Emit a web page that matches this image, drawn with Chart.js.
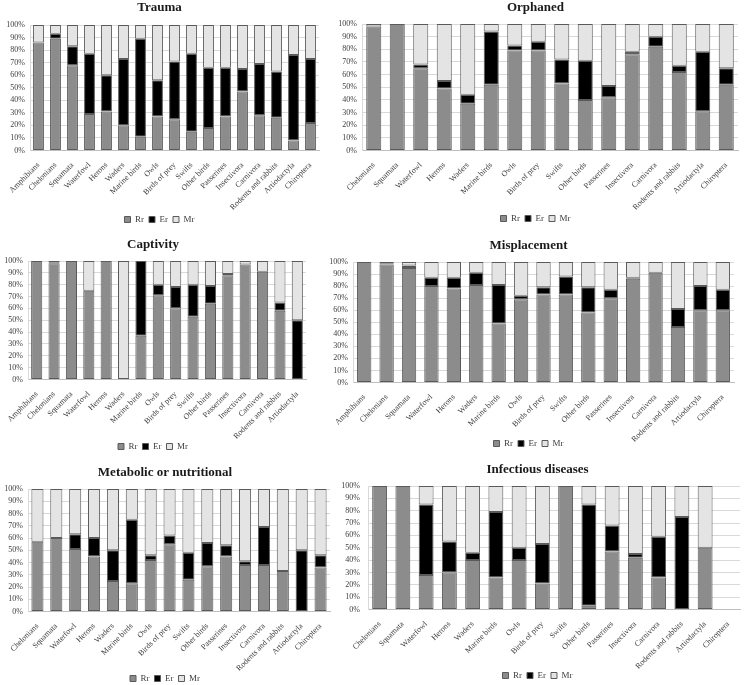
<!DOCTYPE html>
<html><head><meta charset="utf-8">
<script src="https://cdn.jsdelivr.net/npm/chart.js@4/dist/chart.umd.min.js"></script>
<style>
html,body{margin:0;padding:0;background:#fff;}
body{width:745px;height:685px;position:relative;overflow:hidden;}
.p{position:absolute;}
</style></head><body>
<script>
// ---------- DATA ----------
const seriesNames = ['Rr', 'Er', 'Mr'];

const traumaCategories = ['Amphibians','Chelonians','Squamata','Waterfowl','Herons','Waders','Marine birds','Owls','Birds of prey','Swifts','Other birds','Passerines','Insectivora','Carnivora','Rodents and rabbits','Artiodactyla','Chiroptera'];
const traumaRr = [86,89,68,29,31,20,11,27,25,15,18,27,47,28,26,8,22];
const traumaEr = [0,4,15,48,29,53,78,29,46,62,48,39,18,41,37,68,51];
const traumaMr = [14,7,17,23,40,27,11,44,29,23,34,34,35,31,37,24,27];

const orphanedCategories = ['Chelonians','Squamata','Waterfowl','Herons','Waders','Marine birds','Owls','Birds of prey','Swifts','Other birds','Passerines','Insectivora','Carnivora','Rodents and rabbits','Artiodactyla','Chiroptera'];
const orphanedRr = [98,100,65,49,37,52,79,79,53,40,42,76,82,62,31,52];
const orphanedEr = [0,0,3,6,7,42,4,7,19,31,9,2,8,5,47,13];
const orphanedMr = [2,0,32,45,56,6,17,14,28,29,49,22,10,33,22,35];

const captivityCategories = ['Amphibians','Chelonians','Squamata','Waterfowl','Herons','Waders','Marine birds','Owls','Birds of prey','Swifts','Other birds','Passerines','Insectivora','Carnivora','Rodents and rabbits','Artiodactyla'];
const captivityRr = [100,98,100,75,100,0,37,71,60,53,64,88,97,91,58,0];
const captivityEr = [0,1,0,0,0,0,63,9,18,27,15,1,0,0,7,50];
const captivityMr = [0,1,0,25,0,100,0,20,22,20,21,11,3,9,35,50];

const misplacementCategories = ['Amphibians','Chelonians','Squamata','Waterfowl','Herons','Waders','Marine birds','Owls','Birds of prey','Swifts','Other birds','Passerines','Insectivora','Carnivora','Rodents and rabbits','Artiodactyla','Chiroptera'];
const misplacementRr = [100,98,95,80,78,81,49,69,73,73,58,70,86,91,46,60,60];
const misplacementEr = [0,1,2,7,9,10,32,3,6,15,21,7,1,0,15,20,17];
const misplacementMr = [0,1,3,13,13,9,19,28,21,12,21,23,13,9,39,20,23];

const metabolicCategories = ['Chelonians','Squamata','Waterfowl','Herons','Waders','Marine birds','Owls','Birds of prey','Swifts','Other birds','Passerines','Insectivora','Carnivora','Rodents and rabbits','Artiodactyla','Chiroptera'];
const metabolicRr = [57,60,51,45,25,23,42,55,26,37,45,38,38,33,0,36];
const metabolicEr = [0,0,12,15,25,52,4,7,22,19,9,3,31,0,50,10];
const metabolicMr = [43,40,37,40,50,25,54,38,52,44,46,59,31,67,50,54];

const infectiousCategories = ['Chelonians','Squamata','Waterfowl','Herons','Waders','Marine birds','Owls','Birds of prey','Swifts','Other birds','Passerines','Insectivora','Carnivora','Rodents and rabbits','Artiodactyla','Chiroptera'];
const infectiousRr = [100,100,28,30,40,26,40,21,100,3,47,42,26,0,50,0];
const infectiousEr = [0,0,57,25,6,53,10,32,0,82,21,3,33,75,0,0];
const infectiousMr = [0,0,15,45,54,21,50,47,0,15,32,55,41,25,50,0];

const yTickValues = [0,10,20,30,40,50,60,70,80,90,100];

// ---------- STYLE ----------
const colorRr = '#8c8c8c', colorEr = '#000000', colorMr = '#e4e4e4', barBorder = '#5a5a5a';
const serif = '"Liberation Serif", "Times New Roman", serif';
const TITLE_SIZE = 13;

function makeChart(title, cats, rr, er, mr, box) {
  const div = document.createElement('div');
  div.className = 'p';
  const top = box.top;
  const bottom = Math.round(box.legendY + 14.5);
  div.style.left = box.left + 'px';
  div.style.top = top + 'px';
  div.style.width = (box.right - box.left) + 'px';
  div.style.height = (bottom - top) + 'px';
  const cv = document.createElement('canvas');
  div.appendChild(cv);
  document.body.appendChild(div);

  const titleLH = TITLE_SIZE * 1.2;
  const padTop = box.titleY - top - titleLH / 2;
  const padBottom = box.plotTop - top - padTop - titleLH;
  const xH = box.legendY - 9.5 - box.plotBottom;
  const yW = box.plotL - box.left;
  const rightPad = box.right - box.plotR;

  const mk = (label, data, bg) => ({
    label, data, backgroundColor: bg, borderColor: barBorder, borderWidth: 1,
    borderSkipped: false, barPercentage: 0.64, categoryPercentage: 1.0
  });

  new Chart(cv, {
    type: 'bar',
    data: {
      labels: cats,
      datasets: [mk(seriesNames[0], rr, colorRr), mk(seriesNames[1], er, colorEr), mk(seriesNames[2], mr, colorMr)]
    },
    options: {
      responsive: true, maintainAspectRatio: false, animation: false, devicePixelRatio: 1,
      layout: { padding: { left: 0, right: rightPad, top: 0, bottom: 0 } },
      plugins: {
        title: { display: true, text: title, color: '#1a1a1a',
          font: { family: serif, size: TITLE_SIZE, weight: 'bold', lineHeight: 1.2 },
          padding: { top: padTop, bottom: padBottom } },
        legend: { display: true, position: 'bottom',
          labels: { boxWidth: 6, boxHeight: 6, padding: 5, color: '#404040',
            font: { family: serif, size: 9 } } },
        tooltip: { enabled: false }
      },
      scales: {
        x: {
          stacked: true,
          grid: { display: false },
          border: { display: true, color: '#bfbfbf' },
          ticks: { autoSkip: false, minRotation: 45, maxRotation: 45, color: '#404040', padding: 2,
            font: { family: serif, size: 8 } },
          afterFit: (s) => { s.height = xH; s._computeLabelArea = () => null; }
        },
        y: {
          stacked: true, min: 0, max: 100,
          afterBuildTicks: (s) => { s.ticks = yTickValues.map(v => ({ value: v })); },
          grid: { color: '#d9d9d9', drawTicks: false },
          border: { display: true, color: '#d9d9d9' },
          ticks: { autoSkip: false, color: '#404040', padding: box.yPad || 5, font: { family: serif, size: 8 },
            callback: (v) => v + '%' },
          afterFit: (s) => { s.width = yW; }
        }
      }
    }
  });
}

makeChart('Trauma', traumaCategories, traumaRr, traumaEr, traumaMr,
  { left: 0, right: 330, top: 0, plotL: 30, plotR: 319, plotTop: 25, plotBottom: 150, titleY: 8, legendY: 219 });
makeChart('Orphaned', orphanedCategories, orphanedRr, orphanedEr, orphanedMr,
  { left: 333, right: 745, top: 0, plotL: 362, plotR: 738, plotTop: 24, plotBottom: 150, titleY: 7.5, legendY: 218 });
makeChart('Captivity', captivityCategories, captivityRr, captivityEr, captivityMr,
  { left: 0, right: 316, top: 229, plotL: 28, plotR: 306, plotTop: 261, plotBottom: 379, titleY: 245, legendY: 446 });
makeChart('Misplacement', misplacementCategories, misplacementRr, misplacementEr, misplacementMr,
  { left: 323, right: 743, top: 229, plotL: 353, plotR: 734, plotTop: 262, plotBottom: 382, titleY: 246, legendY: 443 });
makeChart('Metabolic or nutritional', metabolicCategories, metabolicRr, metabolicEr, metabolicMr,
  { left: 0, right: 340, top: 457, plotL: 28, plotR: 330, plotTop: 489, plotBottom: 611, titleY: 473, legendY: 678 });
makeChart('Infectious diseases', infectiousCategories, infectiousRr, infectiousEr, infectiousMr,
  { left: 335, right: 755, top: 457, plotL: 368, plotR: 740, plotTop: 486, plotBottom: 609, titleY: 470, legendY: 675, yPad: 8 });
</script>
</body></html>
